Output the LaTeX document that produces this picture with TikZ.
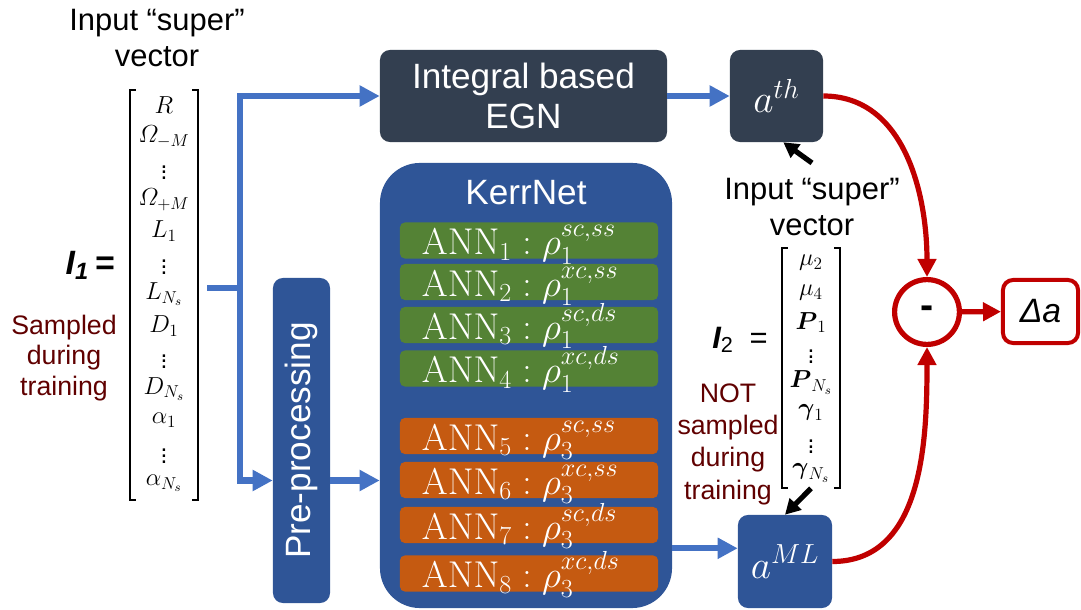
\documentclass[tikz,border=0pt]{standalone}
\usepackage{fix-cm}
\usepackage{amsmath}
\usepackage[no-math]{fontspec}
\setmainfont{Liberation Sans}
\usetikzlibrary{positioning,arrows.meta,calc}
\definecolor{egnfill}{HTML}{333F50}
\definecolor{mlfill}{HTML}{2F5597}
\definecolor{flowblue}{HTML}{4472C4}
\definecolor{annone}{HTML}{548235}
\definecolor{annthree}{HTML}{C55A11}
\definecolor{diffred}{HTML}{C00000}
\definecolor{note}{HTML}{600000}
\tikzset{
  block/.style={rounded corners=0.25cm, text=white, align=center, inner sep=0pt,
                font=\fontsize{25}{29}\selectfont},
  egnbox/.style={block, fill=egnfill, minimum height=2.3cm},
  mlbox/.style={block, fill=mlfill},
  annbar/.style={rounded corners=0.12cm, minimum width=6.45cm, minimum height=0.9cm,
                 inner xsep=0.55cm, inner ysep=0pt, text width=5.35cm, align=left,
                 text height=0.8cm, text depth=0.08cm,
                 text=white, font=\fontsize{26.5}{30}\selectfont},
  title/.style={align=center, font=\fontsize{22}{26}\selectfont},
  remark/.style={align=center, text=note},
  vecbox/.style={inner sep=0pt},
  entry/.style={inner sep=0pt, font=\fontsize{17.5}{21}\selectfont},
  brk/.style={line width=0.05cm, draw=black},
  flow/.style={-{Triangle[length=0.5cm, width=0.5cm]}, line width=0.16cm, draw=flowblue},
  diff/.style={-{Triangle[length=0.45cm, width=0.45cm]}, line width=0.13cm, draw=diffred},
  pointer/.style={-{Triangle[length=0.38cm, width=0.4cm]}, line width=0.13cm, draw=black},
}
\begin{document}
\begin{tikzpicture}[x=0.025cm, y=-0.025cm]
\useasboundingbox (0,0) rectangle (1081,610);

% ---- input vector I_1 -------------------------------------------------------
\node[title] (titleone) at (157,38) {Input “super”\\vector};
\node[vecbox, minimum width=1.7cm, minimum height=10.25cm] (vecone) at (164,295) {};
\draw[brk] ([xshift=0.15cm]vecone.north west) -| (vecone.south west) -- ++(6,0);
\draw[brk] ([xshift=-0.15cm]vecone.north east) -| (vecone.south east) -- ++(-6,0);
\foreach \e [count=\r] in {R, \varOmega_{-M}, \vdots, \varOmega_{+M}, L_1, \vdots, L_{N_s},
                           D_1, \vdots, D_{N_s}, \alpha_1, \vdots, \alpha_{N_s}}
  \node[entry] (vecone-\r) at ($(vecone.north)+(0,31.5*\r-15.75)$) {$\e$};
\node[font=\fontsize{24}{28}\selectfont\bfseries\itshape] (ione) at (90,265) {I\textsubscript{1}\,=};
\node[remark, font=\fontsize{19}{21.5}\selectfont] (sampled) at (64,358) {Sampled\\during\\training};

% ---- theory branch ------------------------------------------------------------
\node[egnbox, minimum width=7.175cm] (egn) at (523.5,96) {Integral based\\EGN};
\node[egnbox, minimum width=2.325cm, font=\fontsize{28}{32}\selectfont] (ath) at (776.5,96) {$a^{th}$};

% ---- KerrNet branch -----------------------------------------------------------
\node[mlbox, minimum width=1.425cm, minimum height=8.125cm] (preproc) at (301.5,440.5)
  {\rotatebox{90}{Pre-processing}};
\node[mlbox, rounded corners=1cm, minimum width=7.3cm, minimum height=11.125cm] (kerr) at (526,385.5) {};
\node[text=white, font=\fontsize{25}{29}\selectfont] (kerrtitle) at (526,193) {KerrNet};
\foreach \j/\y/\s in {1/240.5/{sc,ss}, 2/282/{xc,ss}, 3/325/{sc,ds}, 4/368.5/{xc,ds}}
  \node[annbar, fill=annone] (ann\j) at (529,\y) {$\mathrm{ANN}_{\j} : \rho_1^{\s}$};
\foreach \j/\y/\s in {5/436/{sc,ss}, 6/480/{xc,ss}, 7/525/{sc,ds}, 8/573.5/{xc,ds}}
  \node[annbar, fill=annthree] (ann\j) at (529,\y) {$\mathrm{ANN}_{\j} : \rho_3^{\s}$};
\node[mlbox, minimum width=2.35cm, minimum height=2.325cm, font=\fontsize{28}{32}\selectfont] (aml) at (785,561.5) {$a^{ML}$};

% ---- input vector I_2 -------------------------------------------------------
\node[title] (titletwo) at (812,207) {Input “super”\\vector};
\node[vecbox, minimum width=1.45cm, minimum height=6cm] (vectwo) at (811,368) {};
\draw[brk] ([xshift=0.15cm]vectwo.north west) -| (vectwo.south west) -- ++(6,0);
\draw[brk] ([xshift=-0.15cm]vectwo.north east) -| (vectwo.south east) -- ++(-6,0);
\foreach \e [count=\r] in {\mu_2, \mu_4, \boldsymbol{P}_1, \vdots, \boldsymbol{P}_{N_s},
                           \boldsymbol{\gamma}_1, \vdots, \boldsymbol{\gamma}_{N_s}}
  \node[entry] (vectwo-\r) at ($(vectwo.north)+(0,30*\r-15)$) {$\e$};
\node[font=\fontsize{22}{26}\selectfont] (itwo) at (740,340) {{\bfseries\itshape I}\textsubscript{2}\hspace{0.4cm}=};
\node[remark, font=\fontsize{19}{23}\selectfont] (notsampled) at (728,444) {NOT\\sampled\\during\\training};

% ---- difference -------------------------------------------------------------
\node[circle, draw=diffred, line width=0.13cm, minimum size=1.62cm,
      font=\fontsize{28}{30}\selectfont\bfseries] (minus) at (927,312) {-};
\node[draw=diffred, line width=0.1cm, rounded corners=0.25cm, minimum width=1.875cm,
      minimum height=1.575cm, font=\fontsize{24}{28}\selectfont\itshape] (delta) at (1040.5,311.5) {Δa};

% ---- arrows -----------------------------------------------------------------
\coordinate (split) at (240,288);
\path (preproc.west) ++(0,40) coordinate (feed);
\coordinate (mlin) at ([yshift=0.33cm]aml.west);
\draw[flow, -] ([xshift=0.22cm]vecone.east |- split) -- (split);
\draw[flow] ([yshift=-0.08cm]split) |- (egn.west);
\draw[flow] ([yshift=0.08cm]split) |- (feed);
\draw[flow] (feed -| preproc.east) -- (feed -| kerr.west);
\draw[flow] (egn) -- (ath);
\draw[flow] (kerr.east |- mlin) -- (mlin);
\draw[pointer] ([yshift=0.25cm]titletwo.north) -- ([xshift=0.17cm]ath.south);
\draw[pointer] (vectwo.south) -- (aml.north);
\draw[diff] (ath.east) to[out=0, in=90] (minus.north);
\draw[diff] (aml.east) to[out=0, in=-90] (minus.south);
\draw[diff] (minus) -- (delta);
\end{tikzpicture}
\end{document}
